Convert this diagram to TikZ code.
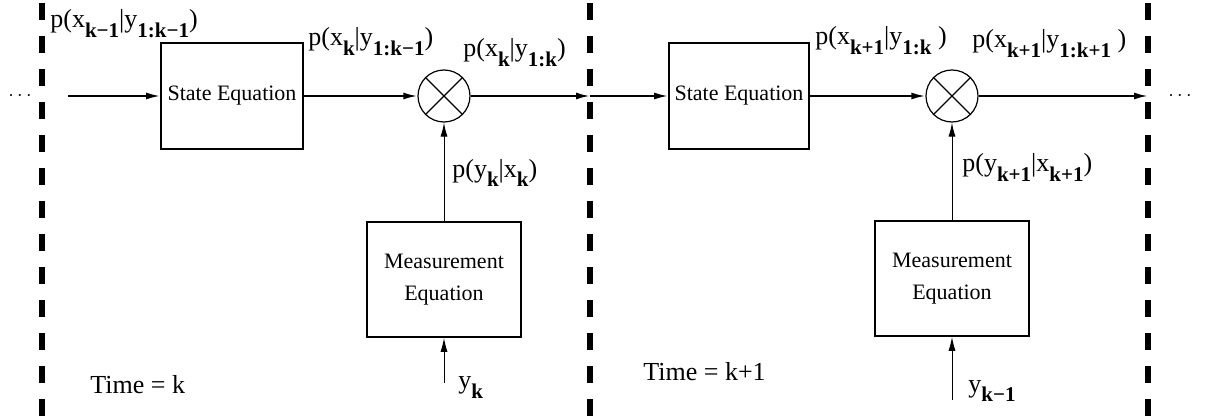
\documentclass[tikz,border=0pt]{standalone}
\usepackage{fontspec}
\setmainfont{Liberation Serif}
\usepackage{tikz}
\usetikzlibrary{arrows.meta,positioning}
\newcommand{\sbs}[1]{\raisebox{-5pt}{\fontsize{10.5}{11}\selectfont\bfseries #1}}

\begin{document}
\begin{tikzpicture}[x=0.5pt,y=-0.5pt,
    eqbox/.style={draw, line width=0.8pt, minimum width=71pt, minimum height=53pt,
      inner sep=2pt, align=center, font=\fontsize{11}{16}\selectfont},
    mult/.style={draw, circle, line width=0.6pt, minimum size=26pt, inner sep=0pt},
    flow/.style={-{Latex[length=7pt,width=3.5pt]}, line width=1pt},
    feed/.style={-{Latex[length=7pt,width=3.5pt]}, line width=0.5pt},
    slice/.style={line width=2.8pt, dash pattern=on 8.5pt off 8pt},
    lbl/.style={anchor=base west, inner sep=0pt, font=\fontsize{13}{15}\selectfont}]
    \useasboundingbox (0,0) rectangle (1206,417);
    % time slices
    \foreach \x in {42,590,1148} \draw[slice] (\x,3) -- (\x,417);
    % blocks
    \node[eqbox] (state1) at (232,96) {State Equation};
    \node[mult] (mul1) at (444,96) {};
    \node[eqbox, minimum width=77pt, minimum height=57.5pt] (meas1) at (444,279.5) {Measurement\\Equation};
    \node[eqbox, minimum width=70pt] (state2) at (739,96) {State Equation};
    \node[mult] (mul2) at (952,96) {};
    \node[eqbox, minimum width=77pt, minimum height=57.5pt] (meas2) at (952,278.5) {Measurement\\Equation};
    \foreach \m in {mul1,mul2}
      \draw[line width=0.6pt] (\m.45) -- (\m.225) (\m.135) -- (\m.315);
    \coordinate (in) at (68,96);
    \coordinate (cut1) at (590,96);
    \coordinate (out) at (1148,96);
    \coordinate (obs1) at (444,383);
    \coordinate (obs2) at (952,400);
    % connections
    \draw[flow] (in) -- (state1);
    \draw[flow] (state1) -- (mul1);
    \draw[flow] (mul1) -- (cut1);
    \draw[flow] (cut1) -- (state2);
    \draw[flow] (state2) -- (mul2);
    \draw[flow] (mul2) -- (out);
    \draw[feed] (meas1) -- (mul1);
    \draw[feed] (obs1) -- (meas1);
    \draw[feed] (meas2) -- (mul2);
    \draw[feed] (obs2) -- (meas2);
    % labels
    \node (dotsL) at (20,96) {$\cdots$};
    \node (dotsR) at (1180,96) {$\cdots$};
    \node[lbl] (prior) at (50,28) {p(x\sbs{k−1}|y\sbs{1:k−1})};
    \node[lbl] (pred1) at (308,46) {p(x\sbs{k}|y\sbs{1:k−1})};
    \node[lbl] (post1) at (463,57) {p(x\sbs{k}|y\sbs{1:k})};
    \node[lbl] (lik1) at (452,177) {p(y\sbs{k}|x\sbs{k})};
    \node[lbl] (pred2) at (815,45) {p(x\sbs{k+1}|y\sbs{1:k} )};
    \node[lbl] (post2) at (972,48) {p(x\sbs{k+1}|y\sbs{1:k+1} )};
    \node[lbl] (lik2) at (962,172) {p(y\sbs{k+1}|x\sbs{k+1})};
    \node[lbl] (obsk1) at (458,388) {y\sbs{k}};
    \node[lbl] (obsk2) at (968,392) {y\sbs{k−1}};
    \node[lbl] (time1) at (90,393) {Time = k};
    \node[lbl] (time2) at (643,380) {Time = k+1};
\end{tikzpicture}
\end{document}
